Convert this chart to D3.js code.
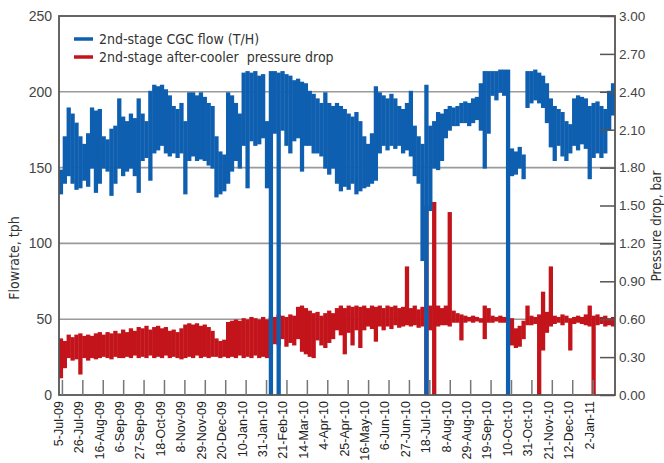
<!DOCTYPE html>
<html><head><meta charset="utf-8">
<script src="https://cdn.jsdelivr.net/npm/d3@7"></script>
<style>
html,body{margin:0;padding:0;background:#fff;}
svg{display:block;font-family:"DejaVu Sans",sans-serif;font-stretch:condensed;}
</style></head><body>
<script>
// ---- data ----
const seriesNames = ["2nd-stage CGC flow (T/H)", "2nd-stage after-cooler  pressure drop"];
const startDate = "2009-07-02";   // first 4-day bin
const binDays = 4;
// 2nd-stage CGC flow (tph): max / min within each 4-day bin
const flowHigh = [148,170,189,185,179,170,165,172,189,187,188,170,168,175,177,195,183,180,185,182,
  195,185,180,200,204,203,204,201,197,190,188,192,180,199,199,197,199,196,192,190,
  170,160,158,199,197,192,185,212,213,212,213,210,211,180,213,213,212,213,211,210,
  207,208,206,205,200,198,195,192,199,192,190,192,190,188,185,183,186,180,170,165,
  172,203,199,197,195,198,195,190,188,192,200,177,170,165,204,177,180,186,185,188,
  190,189,190,192,193,192,195,196,205,213,213,213,213,214,214,214,162,160,163,158,
  213,213,214,212,210,205,195,190,188,186,180,178,195,197,196,195,190,192,193,190,
  188,200,205];
const flowLow = [133,140,145,140,136,137,142,138,150,134,140,150,148,132,140,150,145,148,150,145,
  134,155,157,142,160,162,165,160,158,160,157,160,133,155,158,155,156,155,152,150,
  131,133,135,140,148,155,150,165,137,168,165,166,170,137,0,173,0,175,165,160,
  168,170,148,165,165,160,160,158,150,146,150,140,135,138,136,140,133,135,137,138,
  140,142,160,165,162,165,163,165,160,162,158,145,140,89,0,122,150,149,155,170,
  175,178,178,180,180,178,180,182,175,150,173,198,195,200,198,0,145,146,150,143,
  190,193,195,193,190,180,164,155,165,158,155,160,165,162,166,163,143,157,160,157,
  160,175,185];
// 2nd-stage after-cooler pressure drop (bar): max / min within each 4-day bin
const dpHigh = [0.44,0.42,0.47,0.45,0.47,0.48,0.46,0.47,0.46,0.48,0.49,0.47,0.49,0.48,0.50,0.48,0.51,0.49,0.52,0.50,
  0.53,0.52,0.54,0.51,0.53,0.54,0.52,0.53,0.50,0.51,0.49,0.52,0.55,0.56,0.55,0.56,0.54,0.55,0.53,0.50,
  0.44,0.42,0.43,0.57,0.58,0.59,0.58,0.60,0.59,0.61,0.60,0.59,0.61,0.59,0.62,0.61,0.63,0.62,0.61,0.63,
  0.62,0.69,0.70,0.68,0.66,0.64,0.65,0.62,0.64,0.66,0.64,0.68,0.70,0.68,0.70,0.69,0.70,0.69,0.70,0.68,
  0.70,0.69,0.70,0.68,0.70,0.69,0.70,0.68,0.69,1.01,0.68,0.70,0.67,0.69,1.49,0.70,1.52,0.70,0.68,0.70,
  1.44,0.66,0.64,0.63,0.62,0.61,0.62,0.61,0.60,0.70,0.68,0.62,0.61,0.62,0.61,0.60,0.60,0.52,0.54,0.58,
  0.70,0.62,0.61,0.63,0.81,0.65,1.01,0.62,0.61,0.63,0.62,0.60,0.61,0.62,0.61,0.63,0.70,0.62,0.63,0.61,
  0.62,0.60,0.61];
const dpLow = [0.14,0.22,0.30,0.28,0.29,0.17,0.30,0.28,0.30,0.29,0.30,0.31,0.30,0.29,0.31,0.30,0.30,0.31,0.30,0.32,
  0.30,0.31,0.30,0.32,0.30,0.31,0.30,0.32,0.30,0.31,0.30,0.29,0.30,0.31,0.30,0.32,0.30,0.31,0.30,0.31,
  0.31,0.30,0.31,0.30,0.31,0.30,0.32,0.30,0.31,0.30,0.32,0.30,0.31,0.30,0.33,0.41,0.40,0.45,0.39,0.42,
  0.40,0.45,0.35,0.33,0.31,0.30,0.44,0.40,0.38,0.42,0.45,0.52,0.48,0.33,0.50,0.40,0.52,0.38,0.52,0.55,
  0.53,0.43,0.55,0.52,0.55,0.53,0.56,0.54,0.55,0.56,0.55,0.56,0.54,0.55,0.00,0.52,0.00,0.55,0.56,0.56,
  0.55,0.58,0.58,0.44,0.58,0.59,0.58,0.59,0.58,0.45,0.58,0.58,0.59,0.58,0.58,0.58,0.40,0.38,0.39,0.45,
  0.56,0.56,0.57,0.00,0.36,0.50,0.55,0.57,0.58,0.56,0.58,0.36,0.57,0.58,0.57,0.56,0.55,0.00,0.56,0.57,
  0.55,0.56,0.55];
const leftTicks = [0, 50, 100, 150, 200, 250];
const rightTicks = [0, 0.3, 0.6, 0.9, 1.2, 1.5, 1.8, 2.1, 2.4, 2.7, 3.0];
const dateLabels = ["5-Jul-09","26-Jul-09","16-Aug-09","6-Sep-09","27-Sep-09","18-Oct-09","8-Nov-09",
  "29-Nov-09","20-Dec-09","10-Jan-10","31-Jan-10","21-Feb-10","14-Mar-10","4-Apr-10","25-Apr-10",
  "16-May-10","6-Jun-10","27-Jun-10","18-Jul-10","8-Aug-10","29-Aug-10","19-Sep-10","10-Oct-10",
  "31-Oct-10","21-Nov-10","12-Dec-10","2-Jan-11"];
const xDomain = ["2009-07-02", "2011-01-25"];

// ---- chart ----
const W = 664, H = 463;
const L = 59, R = 615, T = 16, B = 395;
const BLUE = "#0f5fb0", RED = "#c3141c", AX = "#555", GRID = "#9a9a9a";
const parseISO = d3.timeParse("%Y-%m-%d");
const parseLab = d3.timeParse("%d-%b-%y");
const t0 = parseISO(startDate);

const x = d3.scaleTime().domain(xDomain.map(parseISO)).range([L, R]);
const yL = d3.scaleLinear().domain([0, 250]).range([B, T]);
const yR = d3.scaleLinear().domain([0, 3]).range([B, T]);

const svg = d3.select("body").append("svg").attr("width", W).attr("height", H);

// gridlines
svg.append("g").selectAll("line").data(leftTicks.filter(v => v > 0 && v < 250)).join("line")
  .attr("x1", L).attr("x2", R).attr("y1", d => yL(d)).attr("y2", d => yL(d))
  .attr("stroke", GRID).attr("stroke-width", 1.6);

svg.append("clipPath").attr("id", "pc").append("rect")
  .attr("x", L).attr("y", T).attr("width", R - L).attr("height", B - T);

// each 4-day bin drawn as a thin vertical band from its min to its max
function bins(hi, lo) {
  return hi.map((h, i) => {
    const d = d3.timeDay.offset(t0, i * binDays);
    return {a: d, b: d3.timeDay.offset(d, binDays), hi: h, lo: lo[i]};
  });
}
function draw(data, y, color) {
  svg.append("g").attr("clip-path", "url(#pc)").selectAll("rect").data(data).join("rect")
    .attr("x", d => x(d.a) - 0.2)
    .attr("width", d => x(d.b) - x(d.a) + 0.4)
    .attr("y", d => y(d.hi) - 1)
    .attr("height", d => y(d.lo) - y(d.hi) + 2)
    .attr("fill", color);
}
draw(bins(dpHigh, dpLow), yR, RED);
draw(bins(flowHigh, flowLow), yL, BLUE);

// frame
svg.append("rect").attr("x", L).attr("y", T).attr("width", R - L).attr("height", B - T)
  .attr("fill", "none").attr("stroke", AX).attr("stroke-width", 1.8);

// left axis
const gL = svg.append("g").attr("transform", `translate(${L},0)`)
  .call(d3.axisLeft(yL).tickValues(leftTicks).tickSize(0).tickPadding(7));
gL.select(".domain").remove();
gL.selectAll("text").attr("font-size", 14).attr("fill", "#444").attr("font-family", null);

// right axis
const gR = svg.append("g").attr("transform", `translate(${R},0)`)
  .call(d3.axisRight(yR).tickValues(rightTicks).tickFormat(d3.format(".2f")).tickSize(-15).tickPadding(4));
gR.select(".domain").remove();
gR.selectAll("line").attr("stroke", AX).attr("stroke-width", 1.5);
gR.selectAll("text").attr("font-size", 13.5).attr("fill", "#444").attr("font-family", null);

// bottom axis
const gB = svg.append("g").attr("transform", `translate(0,${B})`)
  .call(d3.axisBottom(x).tickValues(dateLabels.map(parseLab)).tickSize(-15)
    .tickFormat((d, i) => dateLabels[i]));
gB.select(".domain").remove();
gB.selectAll("line").attr("stroke", "#777").attr("stroke-width", 1.5);
gB.selectAll("text").attr("font-size", 12.5).attr("fill", "#222").attr("font-family", null)
  .attr("text-anchor", "end").attr("transform", "rotate(-90)")
  .attr("x", -6).attr("y", -4).attr("dy", "0.35em");

// axis titles
svg.append("text").attr("transform", `translate(14,258) rotate(-90)`)
  .attr("text-anchor", "middle").attr("dy", "0.35em").attr("font-size", 14).attr("fill", "#333").text("Flowrate, tph");
svg.append("text").attr("transform", `translate(656,226) rotate(-90)`)
  .attr("text-anchor", "middle").attr("dy", "0.35em").attr("font-size", 13.5).attr("fill", "#333").text("Pressure drop, bar");

// legend
const leg = svg.append("g");
[BLUE, RED].forEach((c, i) => {
  const y = 39 + i * 18;
  leg.append("line").attr("x1", 74).attr("x2", 93).attr("y1", y).attr("y2", y)
    .attr("stroke", c).attr("stroke-width", 3.5);
  leg.append("text").attr("x", 99).attr("y", y).attr("dy", "0.36em")
    .attr("font-size", 14).attr("fill", "#333").style("white-space", "pre").text(seriesNames[i]);
});
</script>
</body></html>
